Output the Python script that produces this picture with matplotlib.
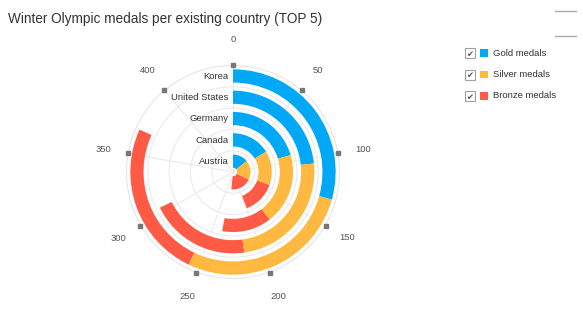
import numpy as np
import matplotlib.pyplot as plt
from matplotlib.patches import Rectangle

plt.rcParams['font.family'] = ['Liberation Sans', 'DejaVu Sans']

categories = ['Korea', 'United States', 'Germany', 'Canada', 'Austria']
gold = [132, 105, 92, 73, 64]
silver = [125, 110, 86, 64, 81]
bronze = [111, 90, 60, 62, 87]
series_names = ['Gold medals', 'Silver medals', 'Bronze medals']
colors = ['#00a8f6', '#ffb840', '#ff5a45']
angle_ticks = [0, 50, 100, 150, 200, 250, 300, 350, 400]
axis_max = 450

W, H = 583, 333
fig = plt.figure(figsize=(W / 100, H / 100), dpi=100)

# polar pane: center (233,172) px, radius ~106.5 px
cx, cy, R = 233, 172, 106.5
ax = fig.add_axes([(cx - R) / W, (H - cy - R) / H, 2 * R / W, 2 * R / H],
                  projection='polar')
ax.set_theta_zero_location('N')
ax.set_theta_direction(-1)

def th(v):
    return np.asarray(v, dtype=float) / axis_max * 2 * np.pi

n = len(categories)
start = np.zeros(n)
for vals, col in zip([gold, silver, bronze], colors):
    vals = np.array(vals, dtype=float)
    for i in range(n):
        r = n - 1 - i
        ax.bar(th(start[i]), 0.62, width=th(vals[i]), bottom=r + 0.2,
               align='edge', color=col, edgecolor='none', zorder=3)
    start += vals

ax.set_rlim(0, n)
ax.set_yticks(range(1, n))
ax.set_yticklabels([])
ax.set_xticks(th(angle_ticks))
ax.set_xticklabels([])
ax.tick_params(length=0)
ax.grid(True, color='#ebebeb', lw=0.8)
ax.spines['polar'].set_color('#e6e6e6')
ax.spines['polar'].set_linewidth(0.8)

# tick marks and angle labels
ax.plot(th(angle_ticks), [n * 1.005] * len(angle_ticks), 's', ms=2.3,
        color='#777777', clip_on=False, zorder=4)
for t in angle_ticks:
    ax.text(th(t), n * 132 / R, str(t), ha='center', va='center',
            fontsize=6.8, color='#555555', clip_on=False)

for i, name in enumerate(categories):
    r = n - 1 - i
    ax.annotate(name, xy=(0, r + 0.5), xytext=(-3, 0), textcoords='offset points',
                ha='right', va='center', fontsize=6.8, color='#333333', zorder=5)

# overlay for title and legend, pixel coordinates
ov = fig.add_axes([0, 0, 1, 1])
ov.set_xlim(0, W)
ov.set_ylim(H, 0)
ov.axis('off')
ov.patch.set_alpha(0)

ov.text(8, 19, 'Winter Olympic medals per existing country (TOP 5)',
        fontsize=9.85, color='#333333', ha='left', va='center')

for k, (name, col) in enumerate(zip(series_names, colors)):
    y = 53 + k * 21.5
    ov.add_patch(Rectangle((465, y - 5), 10, 10, fill=False, ec='#a0a0a0', lw=0.8))
    ov.text(469.3, y + 1.2, '\u2714', ha='center', va='center', fontsize=6,
            color='#555555', family='DejaVu Sans')
    ov.add_patch(Rectangle((480, y - 3.8), 7.5, 7.5, color=col, lw=0))
    ov.text(493, y, name, ha='left', va='center', fontsize=6.8, color='#333333')

# context menu lines (clipped at right edge)
ov.plot([555, 576], [11, 11], color='#aaaaaa', lw=1)
ov.plot([555, 576], [36, 36], color='#aaaaaa', lw=1)

fig.savefig('out.png', dpi=100)
